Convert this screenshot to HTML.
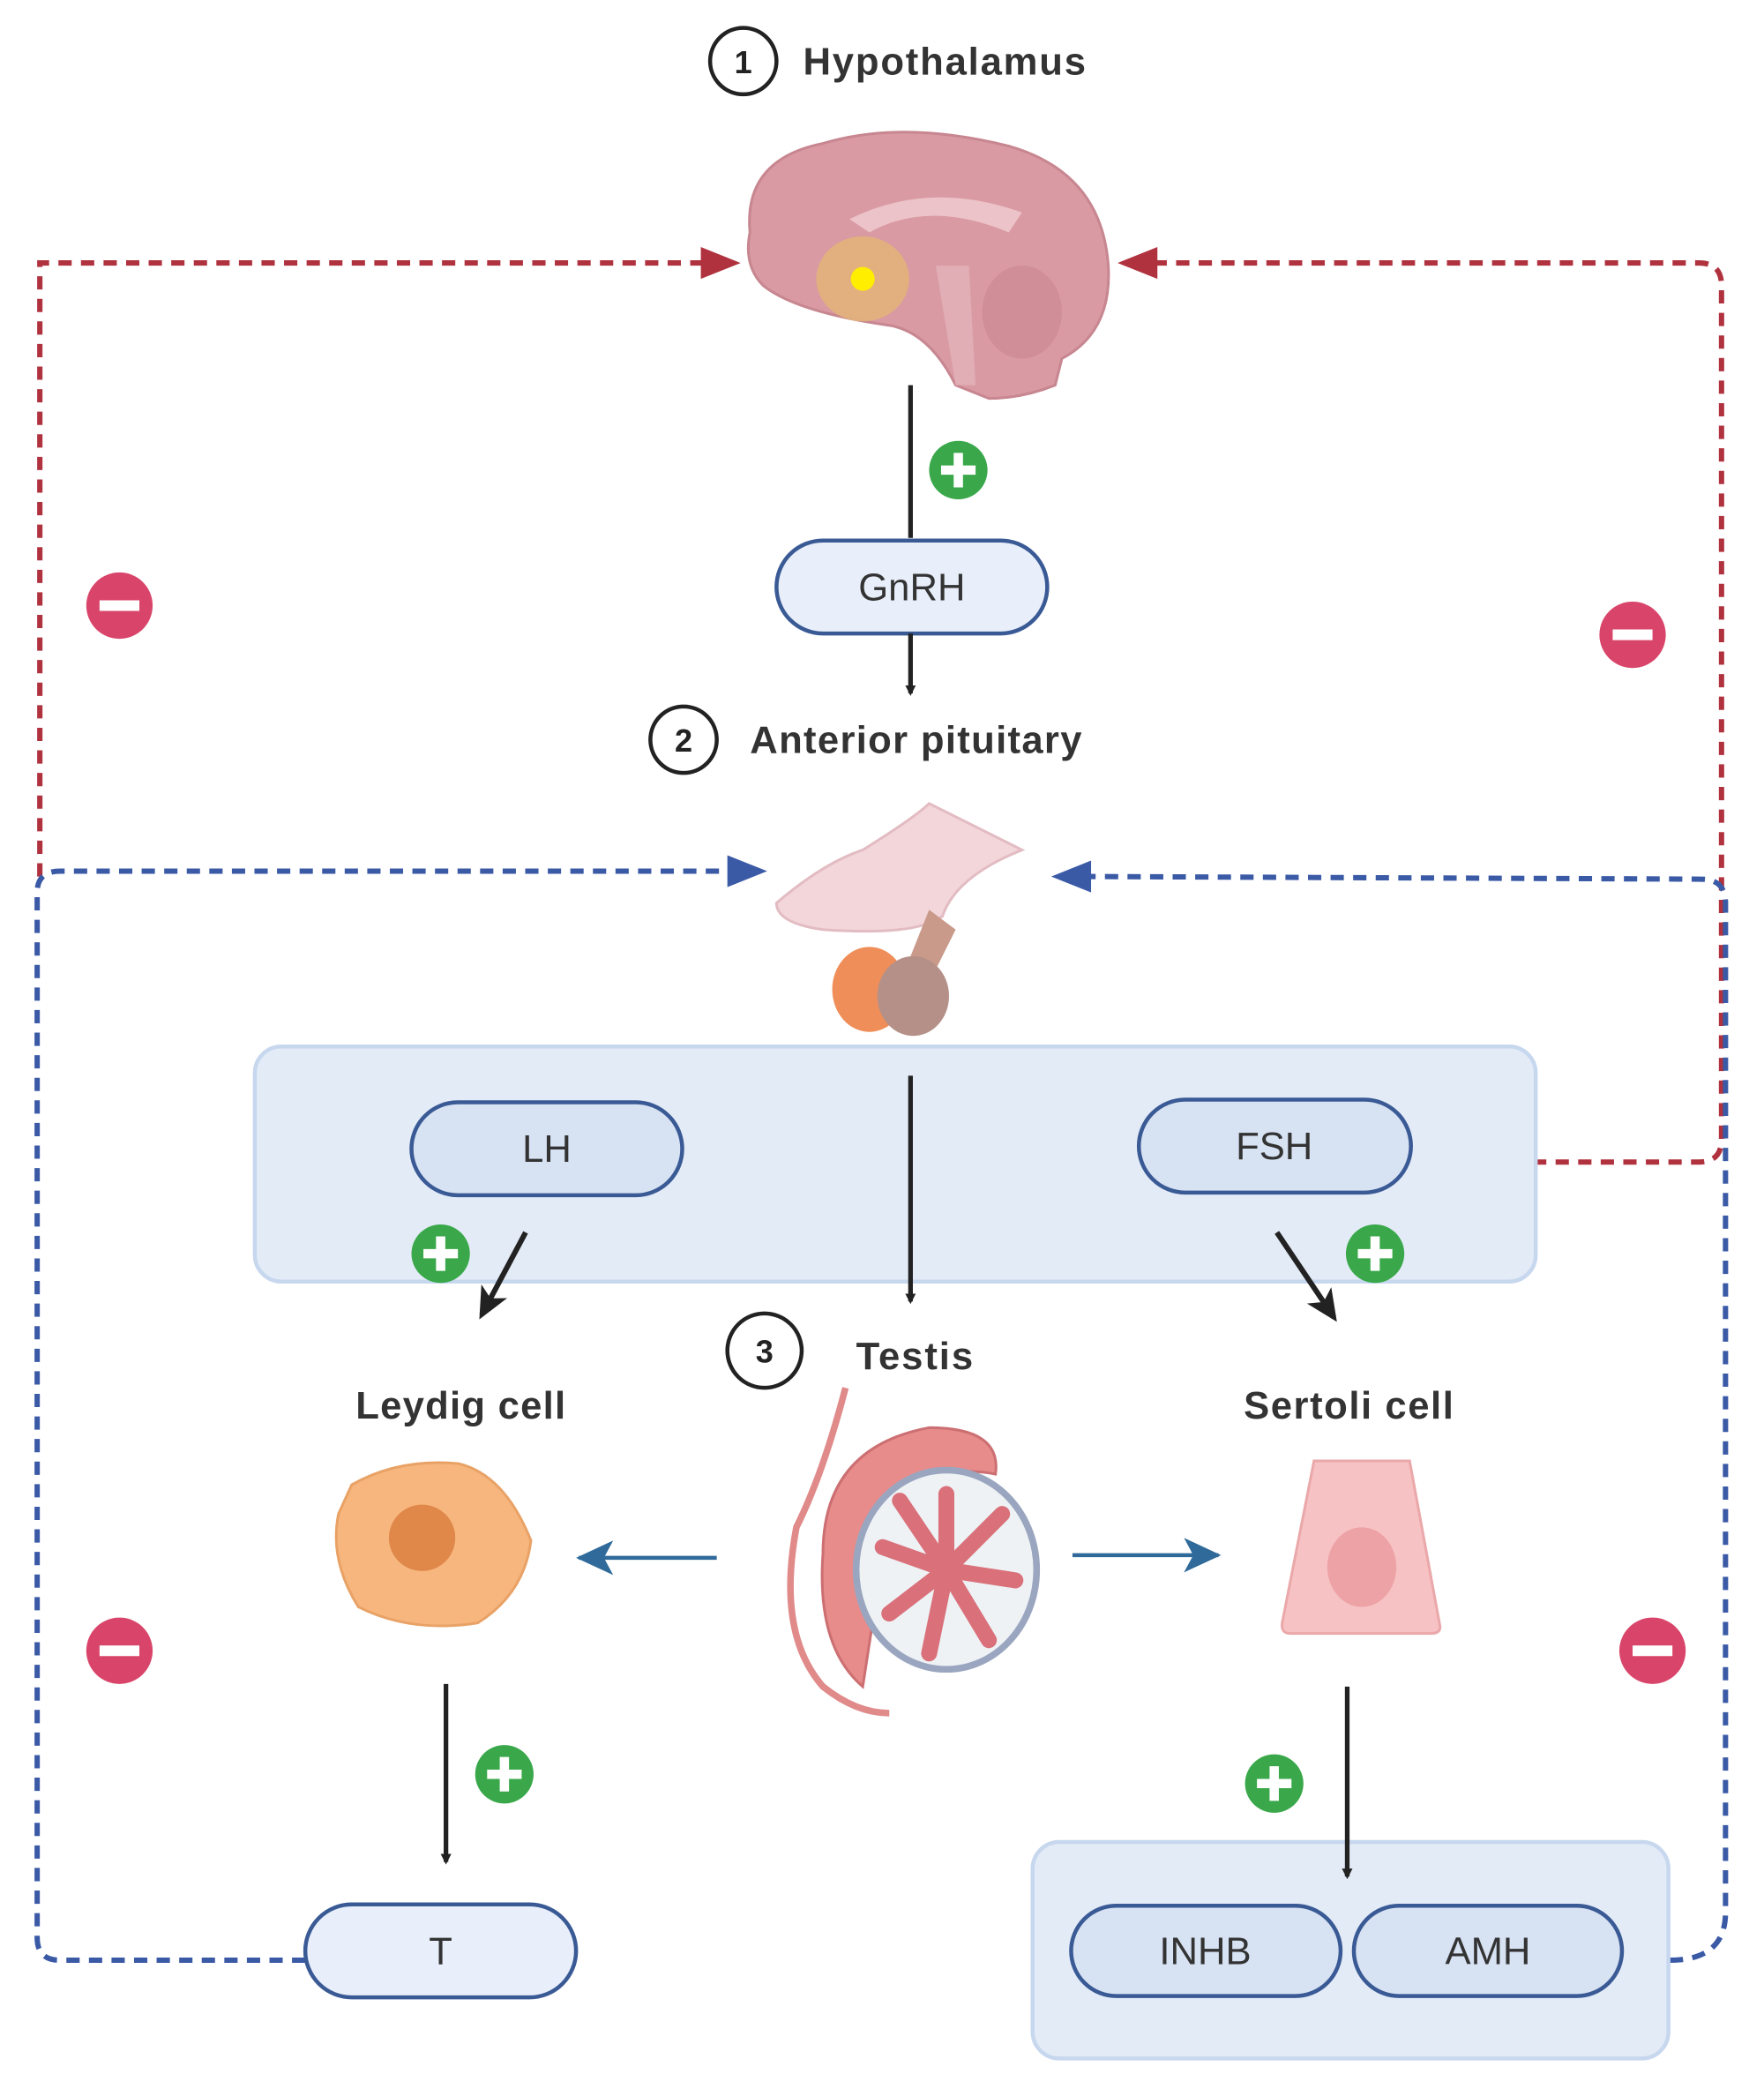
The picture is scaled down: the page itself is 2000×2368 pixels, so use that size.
<!DOCTYPE html>
<html><head><meta charset="utf-8"><style>
html,body{margin:0;padding:0;background:#fff}
svg{display:block}
text{font-family:"Liberation Sans",sans-serif}
</style></head><body>
<svg width="2000" height="2368" viewBox="0 0 1329 1573" preserveAspectRatio="none" xmlns="http://www.w3.org/2000/svg">
<defs>
<marker id="ab" markerWidth="8" markerHeight="8" refX="6" refY="4" orient="auto" markerUnits="userSpaceOnUse"><path d="M0,0 L8,4 L0,8 Z" fill="#222"/></marker>
<marker id="abig" markerWidth="26" markerHeight="26" refX="20" refY="13" orient="auto" markerUnits="userSpaceOnUse"><path d="M0,2 L24,13 L0,24 L6,13 Z" fill="#222"/></marker>
<marker id="ablue" markerWidth="30" markerHeight="26" refX="26" refY="13" orient="auto" markerUnits="userSpaceOnUse"><path d="M0,0 L28,13 L0,26 L7,13 Z" fill="#2f6a9a"/></marker>
</defs>

<g fill="none" stroke="#b0323e" stroke-width="4" stroke-dasharray="10,7">
<path d="M30,660 L30,198 L530,198"/>
<path d="M1155,875 L1280,875 Q1297,875 1297,858 L1297,215 Q1297,198 1280,198 L870,198"/>
</g>
<path d="M528,186 L558,198 L528,210 Z" fill="#b0323e"/>
<path d="M872,186 L842,198 L872,210 Z" fill="#b0323e"/>

<g fill="none" stroke="#3b5aa6" stroke-width="4" stroke-dasharray="10,7">
<path d="M230,1476 L45,1476 Q28,1476 28,1459 L28,672 Q28,656 45,656 L550,656"/>
<path d="M1258,1476 Q1300,1476 1300,1440 L1300,680 Q1300,662 1282,662 L820,660"/>
</g>
<path d="M548,644 L578,656 L548,668 Z" fill="#3b5aa6"/>
<path d="M822,648 L792,660 L822,672 Z" fill="#3b5aa6"/>

<circle cx="560" cy="46" r="25" fill="#fff" stroke="#222" stroke-width="3"/>
<text x="560" y="55" font-size="24" font-weight="bold" text-anchor="middle" fill="#222">1</text>
<text x="605" y="56" font-size="29" font-weight="bold" fill="#333" textLength="213">Hypothalamus</text>

<g>
<path d="M565,175 Q560,120 620,108 Q680,90 760,110 Q830,130 835,200 Q838,250 800,270 L795,290 Q770,300 745,300 L720,290 Q700,250 670,245 Q600,235 575,215 Q560,200 565,175 Z" fill="#d99aa3" stroke="#c78690" stroke-width="2"/>
<path d="M640,165 Q700,135 770,160 L760,175 Q700,150 655,175 Z" fill="#ecc3c8"/>
<ellipse cx="770" cy="235" rx="30" ry="35" fill="#cf8e98"/>
<path d="M705,200 L730,200 L735,290 L720,290 Z" fill="#e0aeb4"/>
<ellipse cx="650" cy="210" rx="35" ry="32" fill="#e2b27a" opacity="0.9"/>
<circle cx="650" cy="210" r="9" fill="#ffee00"/>
</g>

<line x1="686" y1="290" x2="686" y2="405" stroke="#222" stroke-width="3.5"/>
<circle cx="722" cy="354" r="22" fill="#3aa84a"/>
<path d="M722,341 V367 M709,354 H735" stroke="#fff" stroke-width="7"/>

<rect x="585" y="407" width="204" height="70" rx="35" fill="#e8effa" stroke="#3a5a95" stroke-width="3"/>
<text x="687" y="452" font-size="29" text-anchor="middle" fill="#333">GnRH</text>
<line x1="686" y1="477" x2="686" y2="522" stroke="#222" stroke-width="3.5" marker-end="url(#ab)"/>

<circle cx="515" cy="557" r="25" fill="#fff" stroke="#222" stroke-width="3"/>
<text x="515" y="566" font-size="24" font-weight="bold" text-anchor="middle" fill="#222">2</text>
<text x="565" y="567" font-size="29" font-weight="bold" fill="#333" textLength="250">Anterior pituitary</text>

<path d="M585,680 Q620,650 650,640 Q690,615 700,605 L770,640 Q720,660 710,690 Q690,705 620,700 Q585,695 585,680 Z" fill="#f3d6da" stroke="#e2bcc2" stroke-width="2"/>
<path d="M700,685 L720,700 L700,740 L680,735 Z" fill="#c99a8a"/>
<ellipse cx="655" cy="745" rx="28" ry="32" fill="#ef8e58"/>
<ellipse cx="688" cy="750" rx="27" ry="30" fill="#b59088"/>

<rect x="192" y="788" width="965" height="177" rx="20" fill="#e3ebf7" stroke="#c7d7ee" stroke-width="3"/>
<rect x="310" y="830" width="204" height="70" rx="35" fill="#d7e2f3" stroke="#3a5a95" stroke-width="3"/>
<text x="412" y="875" font-size="29" text-anchor="middle" fill="#333">LH</text>
<rect x="858" y="828" width="205" height="70" rx="35" fill="#d7e2f3" stroke="#3a5a95" stroke-width="3"/>
<text x="960" y="873" font-size="29" text-anchor="middle" fill="#333">FSH</text>
<line x1="686" y1="810" x2="686" y2="980" stroke="#222" stroke-width="3.5" marker-end="url(#ab)"/>
<line x1="396" y1="928" x2="363" y2="990" stroke="#222" stroke-width="4" marker-end="url(#abig)"/>
<line x1="962" y1="928" x2="1005" y2="992" stroke="#222" stroke-width="4" marker-end="url(#abig)"/>
<circle cx="332" cy="944" r="22" fill="#3aa84a"/>
<path d="M332,931 V957 M319,944 H345" stroke="#fff" stroke-width="7"/>
<circle cx="1036" cy="944" r="22" fill="#3aa84a"/>
<path d="M1036,931 V957 M1023,944 H1049" stroke="#fff" stroke-width="7"/>

<circle cx="576" cy="1017" r="28" fill="#fff" stroke="#222" stroke-width="3"/>
<text x="576" y="1026" font-size="24" font-weight="bold" text-anchor="middle" fill="#222">3</text>
<text x="645" y="1031" font-size="29" font-weight="bold" fill="#333" textLength="88">Testis</text>
<text x="268" y="1068" font-size="29" font-weight="bold" fill="#333" textLength="158">Leydig cell</text>
<text x="937" y="1068" font-size="29" font-weight="bold" fill="#333" textLength="158">Sertoli cell</text>

<path d="M265,1118 Q300,1098 345,1102 Q380,1110 400,1160 Q395,1200 360,1222 Q310,1230 270,1210 Q248,1175 255,1140 Z" fill="#f6b67e" stroke="#e9a266" stroke-width="2"/>
<circle cx="318" cy="1158" r="25" fill="#e0874a"/>

<path d="M637,1045 Q620,1110 600,1150 Q585,1230 620,1270 Q645,1290 670,1290" fill="none" stroke="#e08a8a" stroke-width="5"/>
<path d="M620,1170 Q620,1090 700,1075 Q755,1075 750,1110 Q700,1100 670,1140 L650,1270 Q615,1240 620,1170 Z" fill="#e88b8b" stroke="#cc6f72" stroke-width="2"/>
<ellipse cx="713" cy="1182" rx="68" ry="75" fill="#eef2f5" stroke="#9aa6bf" stroke-width="5"/>
<g stroke="#d9707a" stroke-width="12" stroke-linecap="round">
<line x1="713" y1="1182" x2="713" y2="1125"/><line x1="713" y1="1182" x2="755" y2="1140"/>
<line x1="713" y1="1182" x2="765" y2="1190"/><line x1="713" y1="1182" x2="745" y2="1235"/>
<line x1="713" y1="1182" x2="700" y2="1245"/><line x1="713" y1="1182" x2="670" y2="1215"/>
<line x1="713" y1="1182" x2="665" y2="1165"/><line x1="713" y1="1182" x2="678" y2="1130"/>
</g>
<line x1="540" y1="1173" x2="436" y2="1173" stroke="#2f6a9a" stroke-width="3" marker-end="url(#ablue)"/>
<line x1="808" y1="1171" x2="918" y2="1171" stroke="#2f6a9a" stroke-width="3" marker-end="url(#ablue)"/>

<path d="M990,1100 L1062,1100 L1085,1225 Q1085,1230 1078,1230 L972,1230 Q965,1230 966,1222 Z" fill="#f7c2c3" stroke="#eaa8aa" stroke-width="2"/>
<ellipse cx="1026" cy="1180" rx="26" ry="30" fill="#eda2a6"/>

<line x1="336" y1="1268" x2="336" y2="1402" stroke="#222" stroke-width="3.5" marker-end="url(#ab)"/>
<circle cx="380" cy="1336" r="22" fill="#3aa84a"/>
<path d="M380,1323 V1349 M367,1336 H393" stroke="#fff" stroke-width="7"/>
<rect x="230" y="1434" width="204" height="70" rx="35" fill="#e8effa" stroke="#3a5a95" stroke-width="3"/>
<text x="332" y="1479" font-size="29" text-anchor="middle" fill="#333">T</text>

<rect x="778" y="1387" width="479" height="163" rx="20" fill="#e3ebf7" stroke="#c7d7ee" stroke-width="3"/>
<line x1="1015" y1="1270" x2="1015" y2="1413" stroke="#222" stroke-width="3.5" marker-end="url(#ab)"/>
<circle cx="960" cy="1343" r="22" fill="#3aa84a"/>
<path d="M960,1330 V1356 M947,1343 H973" stroke="#fff" stroke-width="7"/>
<rect x="807" y="1435" width="203" height="68" rx="34" fill="#d7e2f3" stroke="#3a5a95" stroke-width="3"/>
<text x="908" y="1479" font-size="29" text-anchor="middle" fill="#333">INHB</text>
<rect x="1020" y="1435" width="202" height="68" rx="34" fill="#d7e2f3" stroke="#3a5a95" stroke-width="3"/>
<text x="1121" y="1479" font-size="29" text-anchor="middle" fill="#333">AMH</text>

<g fill="#d9456a">
<circle cx="90" cy="456" r="25"/><circle cx="1230" cy="478" r="25"/>
<circle cx="90" cy="1243" r="25"/><circle cx="1245" cy="1243" r="25"/>
</g>
<g stroke="#fff" stroke-width="8">
<path d="M75,456 H105 M1215,478 H1245 M75,1243 H105 M1230,1243 H1260"/>
</g>
</svg>
</body></html>
